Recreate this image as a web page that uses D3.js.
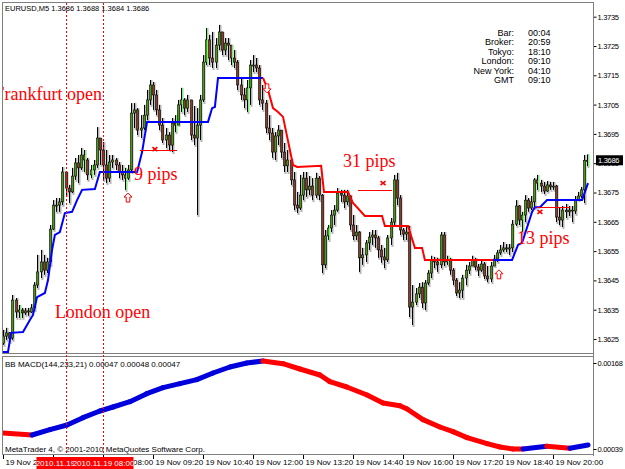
<html>
<head>
<script src="https://cdn.jsdelivr.net/npm/d3@7"></script>
<style>
  body { margin: 0; background: #fff; }
  text { font-family: "Liberation Sans", Arial, sans-serif; }
  .note { font-family: "Liberation Serif", "Times New Roman", serif; fill: #ff0000; font-size: 18px; }
  .small { font-size: 7.5px; letter-spacing: -0.3px; }
</style>
</head>
<body>
<script>
// EURUSD M5, 19 Nov 2010, one entry per bar (bar 0 = 05:20 ... bar 187 = 20:55)
var firstOpen = 1.36236;
var closes = [
  1.36260,1.36271,1.36253,1.36383,1.36342,1.36349,1.36339,1.36346,1.36342,1.36356,
  1.36434,1.36479,1.36513,1.36485,1.36513,1.36625,1.36707,1.36707,1.36718,1.36820,
  1.36765,1.36752,1.36806,1.36851,1.36834,1.36878,1.36861,1.36810,1.36827,1.36844,
  1.36936,1.36895,1.36844,1.36799,1.36854,1.36861,1.36844,1.36820,1.36810,1.36799,
  1.36827,1.37021,1.37032,1.36963,1.36970,1.37014,1.37066,1.37117,1.37083,1.37032,
  1.36980,1.36929,1.36946,1.36912,1.36987,1.36980,1.37049,1.37066,1.37038,1.37066,
  1.36946,1.36936,1.36980,1.37066,1.37195,1.37271,1.37209,1.37195,1.37253,1.37298,
  1.37236,1.37260,1.37253,1.37209,1.37195,1.37117,1.37083,1.37066,1.37107,1.37185,
  1.37185,1.37175,1.37066,1.37055,1.36970,1.36953,1.36888,1.36943,1.36963,1.36888,
  1.36841,1.36861,1.36793,1.36707,1.36697,1.36741,1.36799,1.36759,1.36772,1.36741,
  1.36799,1.36741,1.36503,1.36602,1.36629,1.36673,1.36690,1.36748,1.36741,1.36718,
  1.36738,1.36639,1.36602,1.36615,1.36527,1.36537,1.36578,1.36598,1.36605,1.36595,
  1.36554,1.36530,1.36520,1.36595,1.36649,1.36793,1.36731,1.36622,1.36608,1.36615,
  1.36359,1.36376,1.36404,1.36427,1.36373,1.36441,1.36475,1.36520,1.36513,1.36503,
  1.36605,1.36513,1.36520,1.36485,1.36451,1.36407,1.36417,1.36458,1.36485,1.36499,
  1.36520,1.36496,1.36485,1.36506,1.36465,1.36455,1.36499,1.36523,1.36544,1.36554,
  1.36561,1.36557,1.36561,1.36642,1.36704,1.36656,1.36673,1.36724,1.36697,1.36718,
  1.36793,1.36782,1.36772,1.36755,1.36776,1.36769,1.36772,1.36666,1.36656,1.36690,
  1.36684,1.36690,1.36687,1.36724,1.36738,1.36759,1.36860,1.36860
];
var highs = [
  1.36281,1.36288,1.36274,1.36400,1.36390,1.36366,1.36356,1.36356,1.36356,1.36369,
  1.36444,1.36537,1.36554,1.36537,1.36527,1.36639,1.36724,1.36731,1.36731,1.36837,
  1.36820,1.36776,1.36834,1.36868,1.36878,1.36902,1.36895,1.36868,1.36844,1.36861,
  1.36973,1.36936,1.36922,1.36895,1.36878,1.36878,1.36868,1.36854,1.36844,1.36834,
  1.36844,1.37055,1.37055,1.37038,1.37014,1.37049,1.37100,1.37134,1.37127,1.37100,
  1.37049,1.37004,1.36970,1.36956,1.37004,1.37014,1.37066,1.37107,1.37072,1.37083,
  1.37066,1.37045,1.37038,1.37083,1.37219,1.37311,1.37288,1.37298,1.37277,1.37322,
  1.37288,1.37277,1.37277,1.37253,1.37236,1.37202,1.37141,1.37107,1.37134,1.37202,
  1.37219,1.37209,1.37185,1.37117,1.37066,1.37014,1.36970,1.36956,1.36980,1.36963,
  1.36919,1.36895,1.36865,1.36820,1.36752,1.36810,1.36820,1.36820,1.36806,1.36799,
  1.36817,1.36806,1.36745,1.36622,1.36639,1.36690,1.36707,1.36765,1.36759,1.36759,
  1.36759,1.36741,1.36673,1.36639,1.36618,1.36561,1.36588,1.36615,1.36622,1.36622,
  1.36602,1.36571,1.36561,1.36605,1.36663,1.36810,1.36817,1.36741,1.36629,1.36639,
  1.36636,1.36434,1.36424,1.36441,1.36444,1.36451,1.36485,1.36534,1.36530,1.36527,
  1.36615,1.36615,1.36534,1.36527,1.36492,1.36458,1.36444,1.36469,1.36503,1.36513,
  1.36534,1.36527,1.36506,1.36520,1.36513,1.36499,1.36513,1.36537,1.36554,1.36571,
  1.36581,1.36574,1.36574,1.36656,1.36724,1.36707,1.36684,1.36741,1.36731,1.36738,
  1.36799,1.36810,1.36793,1.36786,1.36789,1.36786,1.36786,1.36776,1.36700,1.36704,
  1.36711,1.36704,1.36704,1.36738,1.36752,1.36769,1.36878,1.36880
];
var lows = [
  1.36230,1.36247,1.36240,1.36247,1.36322,1.36322,1.36322,1.36332,1.36329,1.36339,
  1.36349,1.36424,1.36458,1.36469,1.36475,1.36503,1.36622,1.36684,1.36684,1.36707,
  1.36741,1.36714,1.36748,1.36793,1.36782,1.36827,1.36820,1.36793,1.36799,1.36810,
  1.36834,1.36844,1.36793,1.36782,1.36786,1.36834,1.36827,1.36799,1.36793,1.36759,
  1.36793,1.36820,1.36970,1.36946,1.36936,1.36963,1.36997,1.37049,1.37032,1.37014,
  1.36963,1.36919,1.36902,1.36895,1.36888,1.36956,1.36980,1.37025,1.37014,1.37025,
  1.36929,1.36912,1.36673,1.36929,1.37059,1.37185,1.37185,1.37175,1.37175,1.37236,
  1.37219,1.37219,1.37202,1.37185,1.37175,1.37100,1.37066,1.37038,1.37025,1.37049,
  1.37161,1.37161,1.37049,1.37032,1.36953,1.36929,1.36868,1.36861,1.36912,1.36868,
  1.36820,1.36820,1.36776,1.36690,1.36680,1.36690,1.36724,1.36735,1.36741,1.36724,
  1.36731,1.36724,1.36475,1.36492,1.36588,1.36615,1.36639,1.36684,1.36718,1.36697,
  1.36707,1.36622,1.36588,1.36588,1.36479,1.36503,1.36513,1.36554,1.36571,1.36561,
  1.36527,1.36510,1.36492,1.36513,1.36571,1.36639,1.36707,1.36605,1.36588,1.36588,
  1.36325,1.36298,1.36366,1.36390,1.36356,1.36349,1.36434,1.36458,1.36492,1.36479,
  1.36492,1.36499,1.36503,1.36469,1.36434,1.36397,1.36390,1.36390,1.36434,1.36472,
  1.36499,1.36485,1.36465,1.36479,1.36455,1.36444,1.36444,1.36499,1.36513,1.36537,
  1.36547,1.36547,1.36537,1.36547,1.36636,1.36639,1.36615,1.36649,1.36684,1.36690,
  1.36697,1.36759,1.36752,1.36745,1.36752,1.36759,1.36759,1.36649,1.36639,1.36632,
  1.36663,1.36670,1.36649,1.36677,1.36724,1.36731,1.36714,1.36840
];
// bars marked by the light green tick indicator
var greenTicks = [5, 26, 28, 39, 55, 57, 65, 73, 78, 104, 142, 166, 171, 187];

// trailing stop lines: [bar, price]
var blueStop1 = [[0,1.36206],[1.6,1.36206],[2.6,1.36271],[6.4,1.36274],[8.6,1.36315],[9.6,1.36332],
  [10.9,1.36393],[13.4,1.36407],[14.4,1.36451],[15.7,1.36554],[16.6,1.36605],[18.2,1.36615],
  [19.8,1.36680],[22.1,1.36684],[23.7,1.36724],[25.3,1.36759],[29.4,1.36762],[31,1.36820],
  [42.9,1.36820],[44.5,1.36888],[46.1,1.36991],[65.6,1.36991],[66.9,1.37038],[67.8,1.37042],
  [68.8,1.37141],[83.2,1.37141]];
var redStop = [[83.2,1.37141],[84.8,1.37100],[86.4,1.37038],[88,1.37025],[89.6,1.37008],
  [92.8,1.36844],[94.1,1.36837],[101.8,1.36841],[102.7,1.36752],[110.4,1.36752],[112,1.36714],
  [115.8,1.36670],[121.3,1.36670],[122.2,1.36636],[129.6,1.36636],[131.8,1.36561],[134.1,1.36561],
  [135,1.36520],[156.8,1.36520]];
var blueStop2 = [[156.8,1.36520],[162.9,1.36520],[164.8,1.36571],[166.1,1.36578],[169.3,1.36684],
  [170.2,1.36700],[171.8,1.36700],[174.1,1.36724],[185.3,1.36724],[187.2,1.36782]];

// BB MACD(144,233,21) main line: [bar, value]
var macdLine = [[0,0.00063],[9.3,0.00060],[15,0.00068],[20.5,0.00075],[25.6,0.00086],[31,0.00096],
  [35.2,0.00102],[40.6,0.00110],[46,0.00122],[51.2,0.00131],[56.6,0.00137],[62,0.00143],
  [67.2,0.00153],[72.6,0.00162],[78,0.00168],[83.2,0.00171],[89.6,0.00167],[95,0.00159],
  [101.4,0.00150],[104.6,0.00140],[110,0.00132],[116.5,0.00120],[121.6,0.00108],[127,0.00104],
  [129.3,0.00099],[134.4,0.00083],[139.8,0.00072],[144,0.00065],[148.5,0.00056],[154.9,0.00047],
  [159,0.00042],[163.2,0.00039],[166.4,0.00039],[174,0.00043],[181.4,0.00040],[187.2,0.00045]];

// manual objects on the chart
var noteText = ["Frankfurt open", "London open", "9 pips", "31 pips", "13 pips"];
var noteBar = [31.7, 16.6, 41.9, 108.8, 164.5];
var notePrice = [1.37066, 1.36322, 1.36793, 1.36837, 1.36574];
var noteAnchor = ["end", "start", "start", "start", "start"];
var pipsFrom = [43.8, 113.6, 170.8];
var pipsTo = [55.7, 124.5, 181.4];
var pipsLevel = [1.36895, 1.36760, 1.36700];
var crossBar = [48.6, 121.6, 171.8];
var crossPrice = [1.36898, 1.36782, 1.36684];
var arrowBar = [40, 158.7, 84.5];
var arrowPrice = [1.36731, 1.36469, 1.37107];
var arrowDir = ["up", "up", "down"];
var sessionBars = [20, 32];
var sessionLabels = ["2010.11.19 07:00", "2010.11.19 08:00"];

var priceTicks = [1.3625,1.3635,1.3645,1.3655,1.3665,1.3675,1.3685,1.3695,1.3705,1.3715,1.3725,1.3735];
var macdTicks = [0.00168, 0.00039];
var timeBars = [0,16,32,48,64,80,96,112,128,144,160,176];
var timeLabels = ["19 Nov 2010","19 Nov 06:40","19 Nov 08:00","19 Nov 09:20","19 Nov 10:40","19 Nov 12:00",
  "19 Nov 13:20","19 Nov 14:40","19 Nov 16:00","19 Nov 17:20","19 Nov 18:40","19 Nov 20:00"];
var infoNames = ["Bar:", "Broker:", "Tokyo:", "London:", "New York:", "GMT"];
var infoValues = ["00:04", "20:59", "18:10", "09:10", "04:10", "09:10"];
var lastQuote = 1.3686;

var svg = d3.select("body").append("svg").attr("width", 625).attr("height", 469);

var x = d3.scaleLinear().domain([0, 187]).range([3, 587.4]);
var y = d3.scaleLinear().domain([1.3625, 1.3735]).range([339, 16.7]);
var ym = d3.scaleLinear().domain([0.00039, 0.00168]).range([449, 363]);

// frames
svg.append("rect").attr("x", 2.5).attr("y", 2.5).attr("width", 591).attr("height", 351)
  .style("fill", "none").style("stroke", "#808080");
svg.append("rect").attr("x", 2.5).attr("y", 356.5).attr("width", 591).attr("height", 98)
  .style("fill", "none").style("stroke", "#808080");

svg.append("clipPath").attr("id", "mainclip").append("rect")
  .attr("x", 3).attr("y", 3).attr("width", 590).attr("height", 350);
svg.append("clipPath").attr("id", "macdclip").append("rect")
  .attr("x", 3).attr("y", 357).attr("width", 590).attr("height", 97);

var main = svg.append("g").attr("clip-path", "url(#mainclip)");

// candles
closes.forEach(function(c, i) {
  var o = i == 0 ? firstOpen : closes[i - 1];
  var h = Math.max(highs[i], o, c), l = Math.min(lows[i], o, c);
  var cx = Math.round(x(i)) + 0.5;
  main.append("line").attr("x1", cx + 1).attr("x2", cx + 1)
    .attr("y1", y(h)).attr("y2", y(l) + 2).style("stroke", "#b4b4b4").style("stroke-width", 2);
  main.append("line").attr("x1", cx).attr("x2", cx)
    .attr("y1", y(h)).attr("y2", y(l)).style("stroke", "#000").style("stroke-width", 1);
  var top = y(Math.max(o, c)), bot = y(Math.min(o, c));
  main.append("rect").attr("x", cx - 1).attr("y", top)
    .attr("width", 2).attr("height", Math.max(1, bot - top))
    .style("fill", c >= o ? "#4a9a10" : "#8c3c28")
    .style("stroke", "#000").style("stroke-width", 0.6);
});

greenTicks.forEach(function(i) {
  main.append("line").attr("x1", Math.round(x(i)) + 1.5).attr("x2", Math.round(x(i)) + 1.5)
    .attr("y1", y(highs[i])).attr("y2", y(lows[i]))
    .style("stroke", "#66ff66").style("stroke-width", 1);
});

// stop lines
var stopLine = d3.line().x(function(d) { return x(d[0]); }).y(function(d) { return y(d[1]); });
main.append("path").attr("d", stopLine(blueStop1)).style("fill", "none").style("stroke", "#0000ff").style("stroke-width", 2);
main.append("path").attr("d", stopLine(redStop)).style("fill", "none").style("stroke", "#ff0000").style("stroke-width", 2);
main.append("path").attr("d", stopLine(blueStop2)).style("fill", "none").style("stroke", "#0000ff").style("stroke-width", 2);

// pips lines and crosses
pipsLevel.forEach(function(p, k) {
  main.append("line").attr("x1", x(pipsFrom[k])).attr("x2", x(pipsTo[k]))
    .attr("y1", Math.round(y(p)) + 0.5).attr("y2", Math.round(y(p)) + 0.5)
    .style("stroke", "#ff0000").style("stroke-width", 1);
});
crossBar.forEach(function(b, k) {
  var cx = x(b), cy = y(crossPrice[k]);
  main.append("path").attr("d", "M" + (cx - 2.5) + "," + (cy - 2) + "L" + (cx + 2.5) + "," + (cy + 2) +
      "M" + (cx + 2.5) + "," + (cy - 2) + "L" + (cx - 2.5) + "," + (cy + 2))
    .style("stroke", "#ff0000").style("stroke-width", 1.6);
});

// signal arrows
arrowBar.forEach(function(b, k) {
  var s = arrowDir[k] == "up" ? 1 : -1;
  var pts = [[0,-5],[4,-1],[1.8,-1],[1.8,4],[-1.8,4],[-1.8,-1],[-4,-1]];
  var cx = x(b), cy = y(arrowPrice[k]);
  main.append("path")
    .attr("d", "M" + pts.map(function(p) { return (cx + p[0]) + "," + (cy + s * p[1]); }).join("L") + "Z")
    .style("fill", "#fff").style("stroke", "#ff0000").style("stroke-width", 1);
});

// text notes
noteText.forEach(function(t, k) {
  main.append("text").attr("class", "note")
    .attr("x", x(noteBar[k])).attr("y", y(notePrice[k]))
    .attr("text-anchor", noteAnchor[k]).text(t);
});

// price axis
var yAxis = d3.axisRight(y).tickValues(priceTicks).tickSize(3).tickFormat(d3.format(".4f"));
var ga = svg.append("g").attr("transform", "translate(593.5,0)").call(yAxis);
ga.select(".domain").remove();
ga.selectAll("line").style("stroke", "#000");
ga.selectAll("text").attr("x", 4).attr("class", "small").style("fill", "#000");
svg.append("line").attr("x1", 593.5).attr("x2", 593.5).attr("y1", 2).attr("y2", 456).style("stroke", "#808080");

svg.append("rect").attr("x", 596).attr("y", y(lastQuote) - 5).attr("width", 27).attr("height", 10).style("fill", "#000");
svg.append("text").attr("class", "small").attr("x", 598).attr("y", y(lastQuote) + 3)
  .text(d3.format(".4f")(lastQuote)).style("fill", "#fff");

// MACD panel
var macd = svg.append("g").attr("clip-path", "url(#macdclip)");
for (var k = 1; k < macdLine.length; k++) {
  var a = macdLine[k - 1], b = macdLine[k];
  macd.append("line").attr("x1", x(a[0])).attr("y1", ym(a[1])).attr("x2", x(b[0])).attr("y2", ym(b[1]))
    .style("stroke", b[1] > a[1] ? "#0000dd" : "#ff0000").style("stroke-width", 5).style("stroke-linecap", "round");
}
var mAxis = d3.axisRight(ym).tickValues(macdTicks).tickSize(3).tickFormat(d3.format(".5f"));
var gm = svg.append("g").attr("transform", "translate(593.5,0)").call(mAxis);
gm.select(".domain").remove();
gm.selectAll("text").attr("x", 4).attr("class", "small").style("fill", "#000");

svg.append("text").attr("x", 5).attr("y", 367).style("font-size", "8px")
  .text("BB MACD(144,233,21) 0.00047 0.00048 0.00047");
svg.append("text").attr("x", 5).attr("y", 452).style("font-size", "8px")
  .text("MetaTrader 4, \u00a9 2001-2010 MetaQuotes Software Corp.");

// time axis
var xAxis = d3.axisBottom(x).tickValues(timeBars).tickSize(4)
  .tickFormat(function(d, i) { return timeLabels[i]; });
var gx = svg.append("g").attr("transform", "translate(0,455)").call(xAxis);
gx.select(".domain").remove();
gx.selectAll("text").attr("text-anchor", "start").attr("x", 2).attr("y", 4)
  .style("font-size", "8px").style("fill", "#000");

// session vertical lines
sessionBars.forEach(function(b, k) {
  var lx = Math.round(x(b)) + 0.5;
  svg.append("line").attr("x1", lx).attr("x2", lx).attr("y1", 3).attr("y2", 455)
    .style("stroke", "#ff0000").style("stroke-dasharray", "2,2");
  svg.append("rect").attr("x", lx - 30).attr("y", 457).attr("width", 60).attr("height", 12).style("fill", "#ff0000");
  svg.append("text").attr("x", lx).attr("y", 466).attr("text-anchor", "middle")
    .style("font-size", "8px").style("fill", "#fff").text(sessionLabels[k]);
});

// header and clock box
svg.append("text").attr("x", 5).attr("y", 11).style("font-size", "7.5px")
  .text("EURUSD,M5  1.3686 1.3688 1.3684 1.3686");
infoNames.forEach(function(n, k) {
  svg.append("text").attr("x", 514).attr("y", 36 + k * 9.4).attr("text-anchor", "end")
    .style("font-size", "9px").text(n);
  svg.append("text").attr("x", 528).attr("y", 36 + k * 9.4)
    .style("font-size", "9px").text(infoValues[k]);
});
</script>
</body>
</html>
